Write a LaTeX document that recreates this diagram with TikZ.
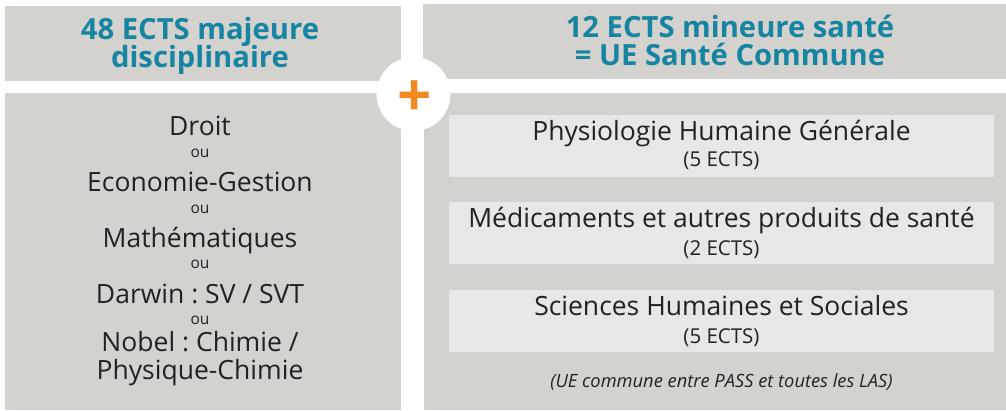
\documentclass[tikz,border=0pt]{standalone}
\usepackage{fontspec}
\setmainfont{Open Sans}
\usetikzlibrary{positioning}
\definecolor{panelgrey}{HTML}{D4D2CE}
\definecolor{itemgrey}{HTML}{E8E7E5}
\definecolor{titleblue}{HTML}{1784A1}
\definecolor{plusorange}{HTML}{F28A22}
\definecolor{textdark}{HTML}{222222}
\frenchspacing

\begin{document}
\begin{tikzpicture}[x=1pt,y=-1pt,
  panel/.style={rectangle,fill=panelgrey,inner sep=0pt,anchor=north west},
  item/.style={rectangle,fill=itemgrey,inner sep=0pt,minimum width=545pt,minimum height=62pt},
  title/.style={anchor=base,text=titleblue,font=\fontsize{29.2}{32}\selectfont\bfseries},
  major/.style={anchor=base,text=textdark,font=\fontsize{26.5}{30}\selectfont},
  ou/.style={anchor=base,text=textdark,font=\fontsize{15.5}{18}\selectfont},
  course/.style={anchor=base,text=textdark,font=\fontsize{26.5}{30}\selectfont},
  credits/.style={anchor=base,text=textdark,font=\fontsize{20.5}{22}\selectfont},
  note/.style={anchor=base,text=textdark,font=\fontsize{18.3}{20}\selectfont\itshape}]
\useasboundingbox (0,0) rectangle (1006,410);

% panels
\node at (5,6)[panel,minimum width=396pt,minimum height=75pt](majhead){};
\node at (423,4)[panel,minimum width=583pt,minimum height=75pt](minhead){};
\node at (5,93)[panel,minimum width=396pt,minimum height=317pt](majbody){};
\node at (424,93)[panel,minimum width=582pt,minimum height=317pt](minbody){};

% plus sign
\node at (413.5,94)[circle,fill=white,inner sep=0pt,minimum size=74pt](plus){};
\node at (415,116)[anchor=base,text=plusorange,font=\fontsize{60}{60}\selectfont\bfseries](plussign){+};

% titles
\node at (200,39)[title](majt1){48 ECTS majeure};
\node at (200,67)[title](majt2){disciplinaire};
\node at (730,37)[title](mint1){12 ECTS mineure santé};
\node at (730,65)[title](mint2){= UE Santé Commune};

% majeure list
\node at (200,135)[major](m1){Droit};
\node at (200,157)[ou](o1){ou};
\node at (200,191)[major](m2){Economie-Gestion};
\node at (200,213)[ou](o2){ou};
\node at (200,247)[major](m3){Mathématiques};
\node at (200,268)[ou](o3){ou};
\node at (200,303)[major](m4){Darwin : SV / SVT};
\node at (200,324)[ou](o4){ou};
\node at (200,351)[major](m5){Nobel : Chimie /};
\node at (200,379)[major](m6){Physique-Chimie};

% mineure courses
\node at (721.5,146)[item](c1){};
\node at (721.5,233)[item](c2){};
\node at (721.5,321)[item](c3){};
\node at (721.5,140)[course](c1a){Physiologie Humaine Générale};
\node at (721.5,166)[credits](c1b){(5 ECTS)};
\node at (721.5,227.5)[course](c2a){Médicaments et autres produits de santé};
\node at (721.5,255)[credits](c2b){(2 ECTS)};
\node at (721.5,315.5)[course](c3a){Sciences Humaines et Sociales};
\node at (721.5,343)[credits](c3b){(5 ECTS)};
\node at (721.5,387)[note](cnote){(UE commune entre PASS et toutes les LAS)};
\end{tikzpicture}
\end{document}
